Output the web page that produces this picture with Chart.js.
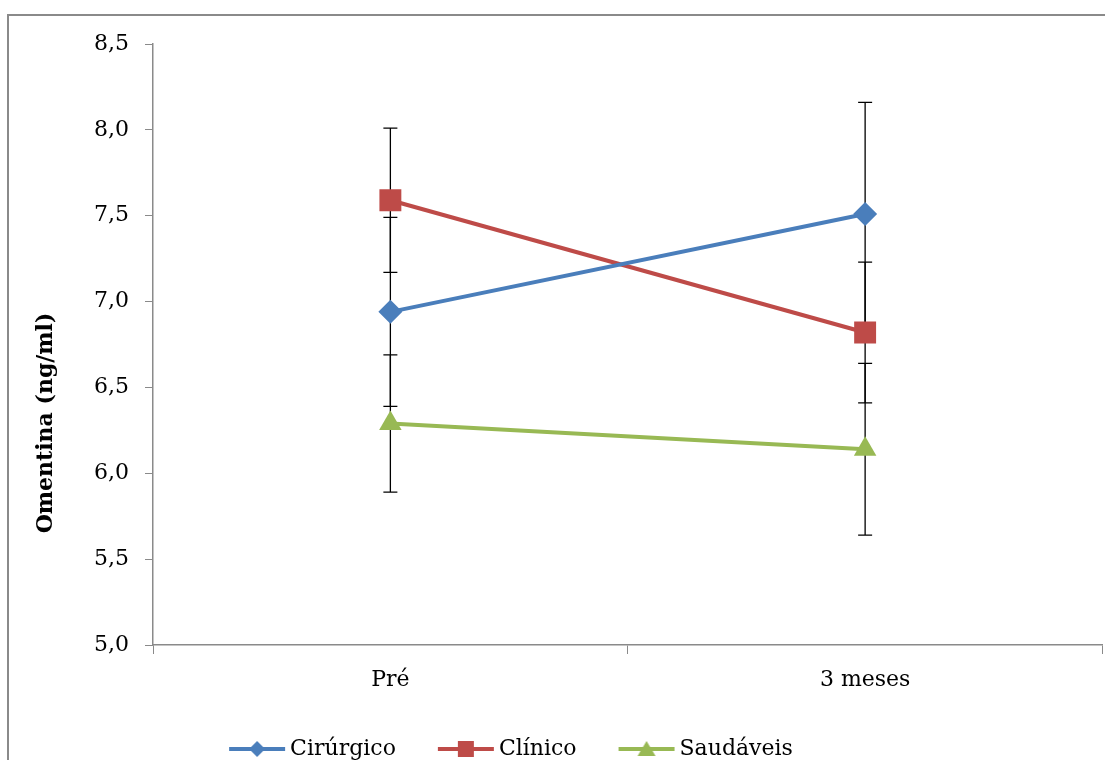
<!DOCTYPE html>
<html>
<head>
<meta charset="utf-8">
<script src="https://cdn.jsdelivr.net/npm/chart.js@4"></script>
<style>
    body { margin: 0; width: 1105px; height: 760px; overflow: hidden; background: #fff; position: relative; }
    #frame { position: absolute; left: 7px; top: 14px; width: 1200px; height: 800px; border: 2px solid #8a8a8a; }
    #myChart { position: absolute; left: -92px; top: 0; }
</style>
</head>
<body>
<div id="frame"></div>
<canvas id="myChart" width="1210" height="770"></canvas>
<script>
// Data
const categories = ['Pré', '3 meses'];
const seriesNames = ['Cirúrgico', 'Clínico', 'Saudáveis'];
const cirurgico = [6.94, 7.51];
const cirurgicoErr = [0.55, 0.65];
const clinico = [7.59, 6.82];
const clinicoErr = [0.42, 0.41];
const saudaveis = [6.29, 6.14];
const saudaveisErr = [0.40, 0.50];
const yMin = 5.0, yMax = 8.5, yStep = 0.5;
const yTitle = 'Omentina (ng/ml)';

const colors = ['#4a7ebb', '#be4b48', '#98b954'];
const FONT = "'DejaVu Serif', serif";

// small canvas used as legend symbol: line with marker in the middle
function legendIcon(color, style) {
    const c = document.createElement('canvas');
    c.width = 70; c.height = 24;
    const g = c.getContext('2d');
    g.strokeStyle = color; g.lineWidth = 4;
    g.beginPath(); g.moveTo(8, 12); g.lineTo(64, 12); g.stroke();
    g.fillStyle = color;
    const cx = 36, cy = 12;
    g.beginPath();
    if (style === 'rectRot') {
        g.moveTo(cx, cy - 8); g.lineTo(cx + 8, cy); g.lineTo(cx, cy + 8); g.lineTo(cx - 8, cy);
    } else if (style === 'rect') {
        g.rect(cx - 8, cy - 8, 16, 16);
    } else {
        g.moveTo(cx, cy - 8); g.lineTo(cx + 9, cy + 7); g.lineTo(cx - 9, cy + 7);
    }
    g.closePath();
    g.fill();
    return c;
}

// error bars drawn under the markers
const errorBars = {
    id: 'errorBars',
    beforeDatasetsDraw(chart) {
        const { ctx, scales: { x, y } } = chart;
        ctx.save();
        ctx.strokeStyle = '#000';
        ctx.lineWidth = 1.3;
        chart.data.datasets.forEach(ds => {
            ds.data.forEach((v, j) => {
                const px = x.getPixelForValue(j);
                const top = y.getPixelForValue(v + ds.errors[j]);
                const bot = y.getPixelForValue(v - ds.errors[j]);
                ctx.beginPath();
                ctx.moveTo(px, top); ctx.lineTo(px, bot);
                ctx.moveTo(px - 7, top); ctx.lineTo(px + 7, top);
                ctx.moveTo(px - 7, bot); ctx.lineTo(px + 7, bot);
                ctx.stroke();
            });
        });
        ctx.restore();
    }
};

// y axis title, centred on the whole chart height like the original
const axisTitle = {
    id: 'axisTitle',
    afterDraw(chart) {
        const ctx = chart.ctx;
        ctx.save();
        ctx.translate(138, 423);
        ctx.rotate(-Math.PI / 2);
        ctx.font = 'bold 22px ' + FONT;
        ctx.fillStyle = '#000';
        ctx.textAlign = 'center';
        ctx.textBaseline = 'middle';
        ctx.fillText(yTitle, 0, 0);
        ctx.restore();
    }
};

const styles = ['rectRot', 'rect', 'triangle'];
const radii = [12, 15.5, 13];
const values = [cirurgico, clinico, saudaveis];
const errors = [cirurgicoErr, clinicoErr, saudaveisErr];
const icons = styles.map((s, i) => legendIcon(colors[i], s));

const ctx = document.getElementById('myChart').getContext('2d');
const myChart = new Chart(ctx, {
    type: 'line',
    data: {
        labels: categories,
        datasets: seriesNames.map((name, i) => ({
            label: name,
            data: values[i],
            errors: errors[i],
            borderColor: colors[i],
            backgroundColor: colors[i],
            borderWidth: 4,
            tension: 0,
            pointStyle: styles[i],
            pointRadius: radii[i],
            pointHoverRadius: radii[i],
            pointBorderWidth: 0
        }))
    },
    options: {
        responsive: false,
        animation: false,
        layout: { padding: { top: 44, right: 0, left: 0, bottom: 0 } },
        plugins: {
            tooltip: { enabled: false },
            legend: {
                position: 'bottom',
                labels: {
                    usePointStyle: true,
                    pointStyleWidth: 46,
                    padding: 46,
                    color: '#000',
                    font: { family: FONT, size: 22 },
                    generateLabels: chart => chart.data.datasets.map((ds, i) => ({
                        text: ds.label,
                        pointStyle: icons[i],
                        fillStyle: colors[i],
                        strokeStyle: colors[i],
                        lineWidth: 0,
                        hidden: false,
                        datasetIndex: i
                    }))
                }
            }
        },
        scales: {
            x: {
                offset: true,
                grid: { display: true, drawOnChartArea: false, offset: true, tickLength: 9, color: '#8a8a8a' },
                border: { display: true, color: '#8a8a8a', width: 1.5 },
                ticks: { color: '#000', padding: 13, font: { family: FONT, size: 22 } },
                afterFit: scale => { scale.height = 47; }
            },
            y: {
                min: yMin,
                max: yMax,
                grid: { display: true, drawOnChartArea: false, tickLength: 8, color: '#8a8a8a' },
                border: { display: true, color: '#8a8a8a', width: 1.5 },
                ticks: {
                    stepSize: yStep,
                    color: '#000',
                    padding: 16,
                    font: { family: FONT, size: 22 },
                    callback: v => v.toFixed(1).replace('.', ',')
                },
                afterFit: scale => { scale.width = 245; }
            }
        }
    },
    plugins: [errorBars, axisTitle]
});
</script>
</body>
</html>
